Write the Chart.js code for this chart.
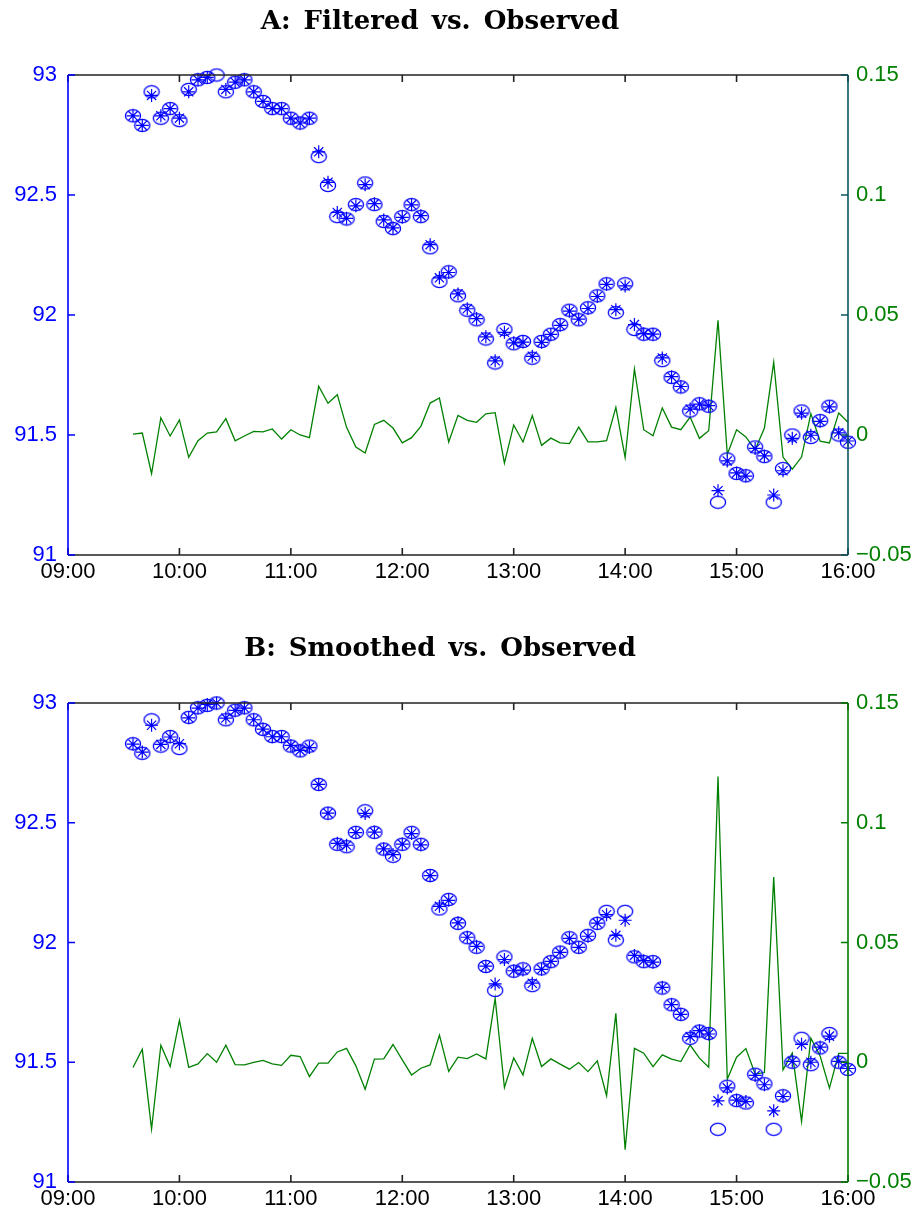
<!DOCTYPE html>
<html>
<head>
<meta charset="utf-8">
<script src="https://cdn.jsdelivr.net/npm/chart.js@4.4.1/dist/chart.umd.min.js"></script>
<style>
  body { margin: 0; background: #fff; }
  .panel { position: relative; width: 920px; }
  .title { position: absolute; left: 0; width: 880px; text-align: center;
           font: bold 26px "DejaVu Serif", serif; color: #000; word-spacing: 4px; }
  canvas { display: block; }
</style>
</head>
<body>
<div class="panel" style="height:600px">
  <div class="title" style="top:5px">A: Filtered vs. Observed</div>
  <canvas id="chartA" width="920" height="600"></canvas>
</div>
<div class="panel" style="height:609px">
  <div class="title" style="top:32px">B: Smoothed vs. Observed</div>
  <canvas id="chartB" width="920" height="609"></canvas>
</div>
<script>
// 5-minute observations
const times = [
  "09:35","09:40","09:45","09:50","09:55","10:00","10:05","10:10","10:15","10:20",
  "10:25","10:30","10:35","10:40","10:45","10:50","10:55","11:00","11:05","11:10",
  "11:15","11:20","11:25","11:30","11:35","11:40","11:45","11:50","11:55","12:00",
  "12:05","12:10","12:15","12:20","12:25","12:30","12:35","12:40","12:45","12:50",
  "12:55","13:00","13:05","13:10","13:15","13:20","13:25","13:30","13:35","13:40",
  "13:45","13:50","13:55","14:00","14:05","14:10","14:15","14:20","14:25","14:30",
  "14:35","14:40","14:45","14:50","14:55","15:00","15:05","15:10","15:15","15:20",
  "15:25","15:30","15:35","15:40","15:45","15:50","15:55","16:00"
];

const observed = [
  92.83, 92.79, 92.93, 92.82, 92.86, 92.81, 92.94, 92.98, 92.99, 93.00,
  92.93, 92.97, 92.98, 92.93, 92.89, 92.86, 92.86, 92.82, 92.80, 92.82,
  92.66, 92.54, 92.41, 92.40, 92.46, 92.55, 92.46, 92.39, 92.36, 92.41,
  92.46, 92.41, 92.28, 92.14, 92.18, 92.08, 92.02, 91.98, 91.90, 91.80,
  91.94, 91.88, 91.89, 91.82, 91.89, 91.92, 91.96, 92.02, 91.98, 92.03,
  92.08, 92.13, 92.01, 92.13, 91.94, 91.92, 91.92, 91.81, 91.74, 91.70,
  91.60, 91.63, 91.62, 91.22, 91.40, 91.34, 91.33, 91.45, 91.41, 91.22,
  91.36, 91.50, 91.60, 91.49, 91.56, 91.62, 91.50, 91.47
];

const filtered = [
  92.83, 92.79, 92.915, 92.83, 92.86, 92.82, 92.93, 92.98, 92.99, null,
  92.94, 92.97, 92.98, 92.93, 92.89, 92.86, 92.86, 92.82, 92.80, 92.82,
  92.68, 92.553, 92.427, 92.403, 92.455, 92.543, 92.464, 92.396, 92.363, 92.407,
  92.459, 92.414, 92.293, 92.155, 92.177, 92.088, 92.026, 91.985, 91.909, 91.809,
  91.928, 91.884, 91.887, 91.828, 91.886, 91.919, 91.957, 92.016, 91.983, 92.027,
  92.077, 92.128, 92.022, 92.121, 91.96, 91.922, 91.92, 91.821, 91.743, 91.702,
  91.608, 91.629, 91.622, 91.268, 91.392, 91.342, 91.329, 91.444, 91.413, 91.25,
  91.351, 91.486, 91.591, 91.499, 91.557, 91.617, 91.509, 91.475
];

const smoothed = [
  92.828, 92.795, 92.907, 92.827, 92.858, 92.83, 92.938, 92.979, 92.994, 93.0,
  92.937, 92.969, 92.979, 92.93, 92.891, 92.859, 92.859, 92.823, 92.802, 92.814,
  92.66, 92.54, 92.414, 92.406, 92.459, 92.539, 92.461, 92.391, 92.367, 92.411,
  92.455, 92.408, 92.279, 92.151, 92.176, 92.082, 92.022, 91.984, 91.901, 91.827,
  91.929, 91.882, 91.885, 91.83, 91.888, 91.921, 91.959, 92.017, 91.98, 92.026,
  92.081, 92.116, 92.03, 92.093, 91.946, 91.924, 91.918, 91.813, 91.741, 91.70,
  91.607, 91.632, 91.618, 91.339, 91.393, 91.342, 91.336, 91.445, 91.406, 91.297,
  91.357, 91.504, 91.575, 91.50, 91.563, 91.609, 91.504, 91.474
];

// residuals (right axis)
const residFiltered = [
  0.0004, 0.0008, -0.0161, 0.0072, -0.0004, 0.0063, -0.0093, -0.0024, 0.0008, 0.0013,
  0.0068, -0.0024, -0.0004, 0.0015, 0.0013, 0.0025, -0.0017, 0.0022, 0.0, -0.0011,
  0.0203, 0.0132, 0.0168, 0.0032, -0.005, -0.0075, 0.0044, 0.0061, 0.0029, -0.0033,
  -0.0011, 0.0036, 0.0133, 0.0154, -0.0029, 0.0082, 0.0061, 0.0053, 0.0088, 0.0093,
  -0.0117, 0.0042, -0.0029, 0.0081, -0.0043, -0.0013, -0.0033, -0.0036, 0.0033, -0.0029,
  -0.0029, -0.0024, 0.0115, -0.0094, 0.0275, 0.0022, -0.0003, 0.0113, 0.0033, 0.0022,
  0.0075, -0.0014, 0.0018, 0.0478, -0.0081, 0.0022, -0.0008, -0.0061, 0.0029, 0.0303,
  -0.0092, -0.0142, -0.0092, 0.0089, -0.0026, -0.0033, 0.0092, 0.0053
];

const residSmoothed = [
  -0.0022, 0.0054, -0.0279, 0.0071, -0.0018, 0.0175, -0.0021, -0.0007, 0.0036, 0.0,
  0.0071, -0.001, -0.0011, -0.0001, 0.0008, -0.0007, -0.0013, 0.0029, 0.0024, -0.006,
  -0.0004, -0.0004, 0.0043, 0.0058, -0.0015, -0.0113, 0.0013, 0.0014, 0.0074, 0.001,
  -0.0053, -0.0025, -0.0011, 0.0113, -0.0038, 0.0021, 0.0015, 0.0035, 0.0014, 0.0267,
  -0.0106, 0.0018, -0.0053, 0.01, -0.0018, 0.0014, -0.0008, -0.0029, -0.0001, -0.0039,
  0.0006, -0.014, 0.0204, -0.0365, 0.0058, 0.0038, -0.0018, 0.0031, 0.0013, 0.0003,
  0.0072, 0.0017, -0.0021, 0.1193, -0.0071, 0.0021, 0.0057, -0.0049, -0.0043, 0.0773,
  -0.0032, 0.0038, -0.0247, 0.01, 0.0026, -0.0108, 0.0037, 0.0037
];

const xTickLabels = ["09:00","10:00","11:00","12:00","13:00","14:00","15:00","16:00"];
const leftTicks = [91, 91.5, 92, 92.5, 93];
const leftTickLabels = ["91", "91.5", "92", "92.5", "93"];
const rightTicks = [-0.05, 0, 0.05, 0.1, 0.15];
const rightTickLabels = ["\u22120.05", "0", "0.05", "0.1", "0.15"];

const BLUE = "#0000ff";
const GREEN = "#008000";
const TICK_FONT = { family: "'Liberation Sans', Arial, sans-serif", size: 22 };

const toMin = (t) => { const [h, m] = t.split(":").map(Number); return h * 60 + m; };
const pts = (vals) => vals.map((v, i) => ({ x: toMin(times[i]), y: v }));

// open ellipse marker like matlab's 'o' on a stretched axis
const ellipse = document.createElement("canvas");
ellipse.width = 18; ellipse.height = 15;
(function () {
  const c = ellipse.getContext("2d");
  c.strokeStyle = BLUE;
  c.lineWidth = 1.3;
  c.beginPath();
  c.ellipse(9, 7.5, 7.6, 6.1, 0, 0, Math.PI * 2);
  c.stroke();
})();

// frame with inward ticks, drawn from the chart's own scales
const framePlugin = {
  id: "frame",
  afterDatasetsDraw(chart, args, opts) {
    const { ctx, chartArea: a, scales } = chart;
    const tl = 7;
    ctx.save();
    ctx.lineWidth = 1.6;
    // top + bottom
    ctx.strokeStyle = "#222";
    ctx.beginPath();
    ctx.moveTo(a.left, a.top); ctx.lineTo(a.right, a.top);
    ctx.moveTo(a.left, a.bottom); ctx.lineTo(a.right, a.bottom);
    scales.x.ticks.forEach(t => {
      const px = scales.x.getPixelForValue(t.value);
      ctx.moveTo(px, a.top); ctx.lineTo(px, a.top + tl);
      ctx.moveTo(px, a.bottom); ctx.lineTo(px, a.bottom - tl);
    });
    ctx.stroke();
    // left
    ctx.strokeStyle = BLUE;
    ctx.beginPath();
    ctx.moveTo(a.left, a.top); ctx.lineTo(a.left, a.bottom);
    scales.y.ticks.forEach(t => {
      const py = scales.y.getPixelForValue(t.value);
      ctx.moveTo(a.left, py); ctx.lineTo(a.left + tl, py);
    });
    ctx.stroke();
    // right
    ctx.strokeStyle = opts.rightColor;
    ctx.beginPath();
    ctx.moveTo(a.right, a.top); ctx.lineTo(a.right, a.bottom);
    scales.y2.ticks.forEach(t => {
      const py = scales.y2.getPixelForValue(t.value);
      ctx.moveTo(a.right, py); ctx.lineTo(a.right - tl, py);
    });
    ctx.stroke();
    ctx.restore();
  }
};

function makeChart(id, estimate, resid, topPad, bottomH, rightColor) {
  return new Chart(document.getElementById(id), {
    type: "line",
    data: {
      datasets: [
        {
          data: pts(observed), yAxisID: "y", showLine: false,
          pointStyle: ellipse, pointRadius: 7, borderColor: BLUE, clip: false, order: 1
        },
        {
          data: pts(estimate), yAxisID: "y", showLine: false,
          pointStyle: "star", pointRadius: 6.5, pointBorderWidth: 1.2,
          borderColor: BLUE, pointBackgroundColor: BLUE, clip: false, order: 0
        },
        {
          data: pts(resid), yAxisID: "y2", borderColor: GREEN, borderWidth: 1.3,
          pointRadius: 0, tension: 0, order: 2
        }
      ]
    },
    options: {
      responsive: false,
      animation: false,
      events: [],
      layout: { padding: { top: topPad, left: 0, right: 0, bottom: 0 } },
      plugins: { legend: { display: false }, tooltip: { enabled: false }, frame: { rightColor } },
      scales: {
        x: {
          type: "linear", min: 540, max: 960,
          grid: { display: false, drawTicks: false }, border: { display: false },
          afterBuildTicks: (s) => { s.ticks = xTickLabels.map((_, i) => ({ value: 540 + 60 * i })); },
          afterFit: (s) => { s.height = bottomH; },
          ticks: {
            color: "#000", font: TICK_FONT, padding: 4, maxRotation: 0,
            callback: (v) => xTickLabels[Math.round((v - 540) / 60)]
          }
        },
        y: {
          position: "left", min: 91, max: 93,
          grid: { display: false, drawTicks: false }, border: { display: false },
          afterBuildTicks: (s) => { s.ticks = leftTicks.map(v => ({ value: v })); },
          afterFit: (s) => { s.width = 68; },
          ticks: {
            color: BLUE, font: TICK_FONT, padding: 11,
            callback: (v) => leftTickLabels[leftTicks.indexOf(v)]
          }
        },
        y2: {
          position: "right", min: -0.05, max: 0.15,
          grid: { display: false, drawTicks: false }, border: { display: false },
          afterBuildTicks: (s) => { s.ticks = rightTicks.map(v => ({ value: v })); },
          afterFit: (s) => { s.width = 72; },
          ticks: {
            color: GREEN, font: TICK_FONT, padding: 8,
            callback: (v) => rightTickLabels[rightTicks.indexOf(v)]
          }
        }
      }
    },
    plugins: [framePlugin]
  });
}

makeChart("chartA", filtered, residFiltered, 75, 45, "#0b5560");
makeChart("chartB", smoothed, residSmoothed, 103, 27, "#007a00");
</script>
</body>
</html>
